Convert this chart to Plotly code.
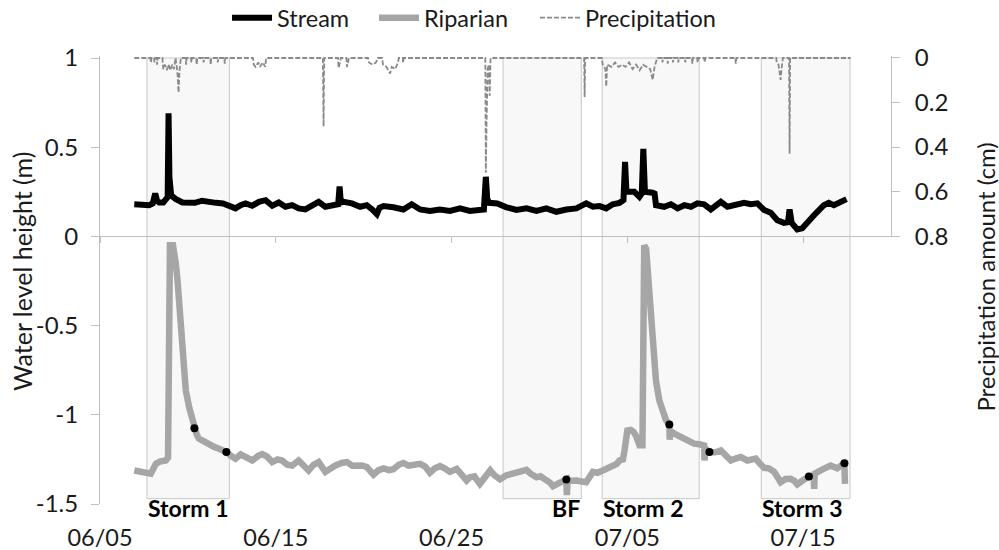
import plotly.graph_objects as go
import pandas as pd

BASE = pd.Timestamp("2014-06-05")

# ---- data (days since 06/05) ----
stream_day = [1.95, 2.4, 2.8, 3.0, 3.14, 3.25, 3.37, 3.6, 3.75, 3.85, 3.9, 3.95, 4.05, 4.3, 4.69,
              5.0, 5.4, 5.8, 6.2, 6.6, 7.0, 7.34, 7.71, 8.0, 8.28, 8.66, 9.04, 9.42, 9.8, 10.17,
              10.55, 10.93, 11.3, 11.68, 12.06, 12.44, 12.82, 13.2, 13.55, 13.63, 13.7, 13.86,
              14.33, 14.8, 15.18, 15.5, 15.75, 15.9, 16.13, 16.69, 17.26, 17.73, 18.21, 18.77,
              19.34, 19.91, 20.48, 21.04, 21.51, 21.84, 21.95, 22.03, 22.14, 22.6, 23.13, 23.69,
              24.26, 24.83, 25.39, 25.96, 26.53, 27.1, 27.66, 28.04, 28.42, 28.8, 29.17, 29.55,
              29.78, 29.87, 29.95, 30.4, 30.69, 30.82, 30.91, 31.0, 31.44, 31.55, 31.63, 32.1,
              32.48, 32.86, 33.24, 33.62, 33.99, 34.37, 34.75, 35.32, 35.7, 36.26, 36.64, 37.02,
              37.4, 37.78, 38.16, 38.53, 38.91, 39.14, 39.23, 39.35, 39.67, 39.95, 40.33, 40.71,
              41.18, 41.46, 41.75, 42.13, 42.47]
stream_level = [0.18, 0.178, 0.175, 0.185, 0.24, 0.2, 0.19, 0.19, 0.21, 0.22, 0.69, 0.33, 0.23, 0.21, 0.19,
                0.19, 0.188, 0.2, 0.19, 0.188, 0.185, 0.175, 0.157, 0.175, 0.185, 0.172, 0.194, 0.203, 0.172, 0.19,
                0.166, 0.175, 0.157, 0.151, 0.175, 0.194, 0.166, 0.175, 0.18, 0.28, 0.19, 0.194,
                0.185, 0.166, 0.175, 0.15, 0.125, 0.16, 0.17, 0.163, 0.151, 0.18, 0.151, 0.143,
                0.151, 0.143, 0.157, 0.143, 0.151, 0.151, 0.334, 0.21, 0.188, 0.185, 0.163, 0.148,
                0.157, 0.143, 0.157, 0.138, 0.151, 0.157, 0.185, 0.166, 0.17, 0.157, 0.18, 0.188,
                0.203, 0.418, 0.25, 0.25, 0.222, 0.24, 0.49, 0.25, 0.245, 0.24, 0.175, 0.166,
                0.18, 0.157, 0.175, 0.166, 0.185, 0.18, 0.151, 0.194, 0.166, 0.175, 0.188, 0.18,
                0.185, 0.148, 0.132, 0.091, 0.076, 0.08, 0.151, 0.076, 0.039, 0.045, 0.09, 0.128,
                0.175, 0.188, 0.175, 0.194, 0.209]

riparian_day = [1.95, 2.3, 2.61, 2.89, 3.05, 3.18, 3.4, 3.74, 3.87, 3.89, 3.93, 3.98, 4.15, 4.25,
                4.31, 4.41, 4.5, 4.59, 4.69, 4.78, 4.88, 5.07, 5.26, 5.37, 5.5, 5.63, 5.9, 6.2,
                6.5, 6.77, 7.0, 7.19, 7.45, 7.71, 8.0,
                8.28, 8.66, 9.0, 9.23, 9.51, 9.8, 10.1, 10.36, 10.65, 10.93, 11.3, 11.6, 11.87, 12.15,
                12.44, 12.82, 13.1, 13.39, 13.75, 14.05, 14.35, 14.62, 14.9, 15.18, 15.56, 15.85,
                16.13, 16.45, 16.69, 17.0, 17.26, 17.55, 17.83, 18.21, 18.5, 18.77, 19.05, 19.34,
                19.6, 19.91, 20.29, 20.6, 20.86, 21.05, 21.3, 21.61, 21.9, 22.2, 22.45, 22.75, 23.1,
                23.5, 23.9, 24.26, 24.5, 24.83, 25.05, 25.3, 25.6, 25.77, 26.15, 26.53, 26.56, 26.6,
                27.1, 27.4, 27.66, 28.04, 28.3, 28.6, 28.9, 29.17, 29.4, 29.55, 29.75, 29.84, 29.9,
                30.0, 30.2, 30.35, 30.5, 30.69, 30.86, 30.9, 30.92, 30.96, 31.07, 31.16, 31.25,
                31.35, 31.44, 31.54, 31.63, 31.82, 32.01, 32.2,
                32.39, 32.41, 32.45, 32.67, 32.95, 33.24, 33.5, 33.8, 34.1, 34.37, 34.39, 34.45,
                34.65, 35.0, 35.32, 35.6, 35.89, 36.15, 36.45, 36.83, 37.1, 37.3, 37.55, 37.78,
                38.05, 38.35, 38.55, 38.72, 39.0, 39.29, 39.5, 39.67, 39.95, 40.2, 40.33, 40.6,
                40.63, 40.66, 41.0, 41.3, 41.56, 41.94, 42.15, 42.35, 42.38]
riparian_level = [-1.312, -1.32, -1.33, -1.33, -1.3, -1.275, -1.262, -1.256, -1.24, -0.4, -0.07, -0.05, -0.05, -0.09,
                  -0.15, -0.246, -0.375, -0.526, -0.655, -0.77, -0.863, -0.957, -1.03, -1.075, -1.11, -1.134, -1.15, -1.162,
                  -1.18, -1.19, -1.2, -1.209, -1.23, -1.246, -1.222,
                  -1.24, -1.256, -1.23, -1.22, -1.235, -1.265, -1.25, -1.256, -1.28, -1.284, -1.256, -1.29, -1.312, -1.28,
                  -1.265, -1.32, -1.3, -1.284, -1.27, -1.265, -1.285, -1.284, -1.284, -1.293, -1.335, -1.31,
                  -1.3, -1.31, -1.305, -1.28, -1.27, -1.285, -1.284, -1.275, -1.29, -1.325, -1.3, -1.288,
                  -1.3, -1.32, -1.303, -1.34, -1.368, -1.35, -1.345, -1.387, -1.35, -1.312, -1.34, -1.362, -1.34,
                  -1.33, -1.325, -1.308, -1.33, -1.35, -1.345, -1.36, -1.38, -1.4, -1.378, -1.362, -1.45, -1.37,
                  -1.368, -1.37, -1.378, -1.32, -1.325, -1.312, -1.3, -1.284, -1.275, -1.256, -1.25, -1.2, -1.11,
                  -1.088, -1.085, -1.095, -1.12, -1.17, -1.17, -0.3, -0.05, -0.05, -0.07, -0.19, -0.34,
                  -0.49, -0.62, -0.72, -0.81, -0.92, -0.985, -1.03,
                  -1.055, -1.14, -1.09, -1.106, -1.12, -1.134, -1.145, -1.162, -1.165, -1.172, -1.256, -1.19,
                  -1.209, -1.21, -1.2, -1.23, -1.256, -1.245, -1.237, -1.256, -1.25, -1.246, -1.275, -1.297,
                  -1.3, -1.32, -1.35, -1.378, -1.36, -1.359, -1.37, -1.39, -1.37, -1.36, -1.346, -1.35,
                  -1.415, -1.33, -1.312, -1.3, -1.284, -1.3, -1.28, -1.271, -1.387]

precip_day = [1.95, 2.87, 2.9, 2.93, 3.07, 3.1, 3.13, 3.22, 3.25, 3.28, 3.55, 3.6, 3.7, 3.8, 3.9, 4.0,
              4.1, 4.2, 4.3, 4.4, 4.47, 4.52, 4.6, 4.87, 4.9, 4.93, 5.17, 5.2, 5.23, 5.47, 5.5, 5.53,
              5.87, 5.9, 5.93, 6.27, 6.3, 6.33, 6.67, 6.7, 6.73, 7.07, 7.1, 7.13, 8.7, 8.75, 8.85,
              9.0, 9.1, 9.25, 9.4, 9.45, 12.68, 12.7, 12.72, 12.74, 12.76, 13.54, 13.57, 13.65, 13.7,
              14.02, 14.05, 14.12, 14.15, 15.25, 15.3, 15.5, 15.7, 15.8, 16.05, 16.1, 16.3, 16.5,
              16.6, 16.8, 16.95, 17.0, 17.22, 17.25, 17.28, 21.92, 21.95, 21.99, 22.05, 22.12, 22.17,
              22.22, 27.54, 27.57, 27.6, 28.55, 28.6, 28.75, 28.8, 28.85, 29.1, 29.3, 29.5, 29.7,
              29.9, 30.1, 30.3, 30.5, 30.7, 30.9, 31.1, 31.3, 31.44, 31.55, 31.7, 31.97, 32.0, 32.03,
              32.27, 32.3, 32.33, 32.57, 32.6, 32.63, 32.87, 32.9, 32.93, 33.27, 33.3, 33.33, 33.67,
              33.7, 33.73, 33.97, 34.0, 34.03, 34.37, 34.4, 34.43, 36.14, 36.17, 36.2, 38.47, 38.5,
              38.6, 38.72, 38.8, 38.85, 39.2, 39.23, 39.26, 42.7]
precip_cm = [0, 0, 0.02, 0, 0, 0.02, 0, 0, 0.03, 0, 0, 0.05, 0.03, 0.055, 0.03, 0.055,
             0.03, 0.05, 0, 0.06, 0.155, 0.06, 0, 0, 0.03, 0, 0, 0.02, 0, 0, 0.03, 0,
             0, 0.02, 0, 0, 0.03, 0, 0, 0.02, 0, 0, 0.025, 0, 0, 0.03, 0.04,
             0.02, 0.04, 0.02, 0.04, 0, 0, 0.2, 0.307, 0.1, 0, 0, 0.045, 0.02, 0,
             0, 0.04, 0.02, 0, 0, 0.02, 0.03, 0.02, 0, 0, 0.03, 0.04, 0.07,
             0.04, 0.05, 0.02, 0, 0, 0.02, 0, 0, 0.515, 0.3, 0.05, 0.03, 0.17,
             0, 0, 0.175, 0, 0, 0.03, 0.05, 0.128, 0.03, 0.04, 0.02, 0.04, 0.03,
             0.04, 0.02, 0.05, 0.03, 0.055, 0.03, 0.04, 0.05, 0.098, 0.04, 0, 0, 0.02, 0,
             0, 0.025, 0, 0, 0.02, 0, 0, 0.02, 0, 0, 0.02, 0, 0,
             0.025, 0, 0, 0.02, 0, 0, 0.02, 0, 0, 0.025, 0, 0, 0.02,
             0.03, 0.098, 0.03, 0, 0, 0.43, 0, 0]

dot_day = [5.37, 7.19, 26.53, 32.39, 34.67, 40.33, 42.35]
dot_level = [-1.075, -1.209, -1.362, -1.055, -1.209, -1.346, -1.271]

window_names = ["Storm 1", "BF", "Storm 2", "Storm 3"]
window_start = [2.67, 22.93, 28.57, 37.62]
window_end = [7.36, 27.38, 34.09, 42.67]
window_label_side = ["left", "right", "left", "left"]

x_tick_days = [0, 10, 20, 30, 40]
x_tick_labels = ["06/05", "06/15", "06/25", "07/05", "07/15"]
x_range_days = [0, 45]
left_ticks = [1, 0.5, 0, -0.5, -1, -1.5]
left_tick_labels = ["1", "0.5", "0", "-0.5", "-1", "-1.5"]
right_ticks = [0, 0.2, 0.4, 0.6, 0.8]
right_tick_labels = ["0", "0.2", "0.4", "0.6", "0.8"]


def to_date(days):
    return [BASE + pd.Timedelta(days=d) for d in days]


FONT = "Lato"
TXT = "#1a1a1a"
AX = "#bfbfbf"

fig = go.Figure()
fig.add_trace(go.Scatter(x=to_date(precip_day), y=precip_cm, mode="lines", name="Precipitation",
                         yaxis="y2", line=dict(color="#8a8a8a", width=1.8, dash="5px,2px"),
                         legend="legend3", hoverinfo="skip"))
fig.add_trace(go.Scatter(x=to_date(riparian_day), y=riparian_level, mode="lines", name="Riparian",
                         line=dict(color="#a6a6a6", width=6.5), legend="legend2"))
fig.add_trace(go.Scatter(x=to_date(stream_day), y=stream_level, mode="lines", name="Stream",
                         line=dict(color="#000000", width=6), legend="legend"))
fig.add_trace(go.Scatter(x=to_date(dot_day), y=dot_level, mode="markers", xaxis="x2", yaxis="y",
                         marker=dict(color="#000000", size=8), showlegend=False))

shapes = []
annotations = []
for name, s, e, side in zip(window_names, window_start, window_end, window_label_side):
    shapes.append(dict(type="rect", xref="x", yref="y", x0=to_date([s])[0], x1=to_date([e])[0],
                       y0=-1.47, y1=1, fillcolor="#f8f8f8", line=dict(color="#c8c8c8", width=1),
                       layer="below"))
    annotations.append(dict(text="<b>%s</b>" % name, xref="x", yref="paper",
                            x=to_date([s if side == "left" else e])[0], y=-0.008,
                            xanchor=side, yanchor="middle", showarrow=False, borderpad=0,
                            font=dict(family=FONT, size=23, color="#000000")))

annotations.append(dict(text="Water level height (m)", xref="paper", yref="paper", x=-0.0986, y=0.518,
                        textangle=-90, xanchor="center", yanchor="middle", showarrow=False,
                        font=dict(family=FONT, size=25, color=TXT)))
annotations.append(dict(text="Precipitation amount (cm)", xref="paper", yref="paper", x=1.119, y=0.5056,
                        textangle=-90, xanchor="center", yanchor="middle", showarrow=False,
                        font=dict(family=FONT, size=24, color=TXT)))

legend_common = dict(orientation="h", xanchor="left", y=1.085, yanchor="middle",
                     font=dict(family=FONT, size=23.5, color=TXT), bgcolor="rgba(0,0,0,0)",
                     itemwidth=40)

xr = to_date(x_range_days)
fig.update_layout(
    width=999, height=550,
    margin=dict(l=100, r=108, t=56, b=46, autoexpand=False),
    paper_bgcolor="white", plot_bgcolor="rgba(0,0,0,0)",
    font=dict(family=FONT, size=24, color=TXT),
    showlegend=True,
    legend=dict(x=0.1606, **legend_common),
    legend2=dict(x=0.3464, **legend_common),
    legend3=dict(x=0.5499, **legend_common),
    xaxis=dict(type="date", range=xr, anchor="y2", showline=True, linecolor=AX, linewidth=1,
               ticks="outside", ticklen=6, tickcolor=AX, tickvals=to_date(x_tick_days),
               showticklabels=False, showgrid=False, zeroline=False),
    xaxis2=dict(type="date", range=xr, overlaying="x", anchor="y", side="bottom",
                showline=False, ticks="", tickvals=to_date(x_tick_days), ticktext=x_tick_labels,
                showgrid=False, zeroline=False, ticklabelstandoff=17,
                tickfont=dict(family=FONT, size=23.5, color=TXT)),
    yaxis=dict(domain=[0, 1], range=[-1.5, 1.0112], tickvals=left_ticks, ticktext=left_tick_labels,
               ticks="outside", ticklen=8, tickcolor=AX, showline=True, linecolor=AX,
               ticklabelstandoff=8,
               showgrid=False, zeroline=False, tickfont=dict(family=FONT, size=24, color=TXT)),
    yaxis2=dict(domain=[0.5978, 1], range=[0.8, -0.0089], side="right", anchor="x",
                tickvals=right_ticks, ticktext=right_tick_labels, ticks="outside", ticklen=8,
                ticklabelstandoff=10,
                tickcolor=AX, showline=True, linecolor=AX, showgrid=False, zeroline=False,
                tickfont=dict(family=FONT, size=24, color=TXT)),
    shapes=shapes,
    annotations=annotations,
)

fig.write_html("out.html")
